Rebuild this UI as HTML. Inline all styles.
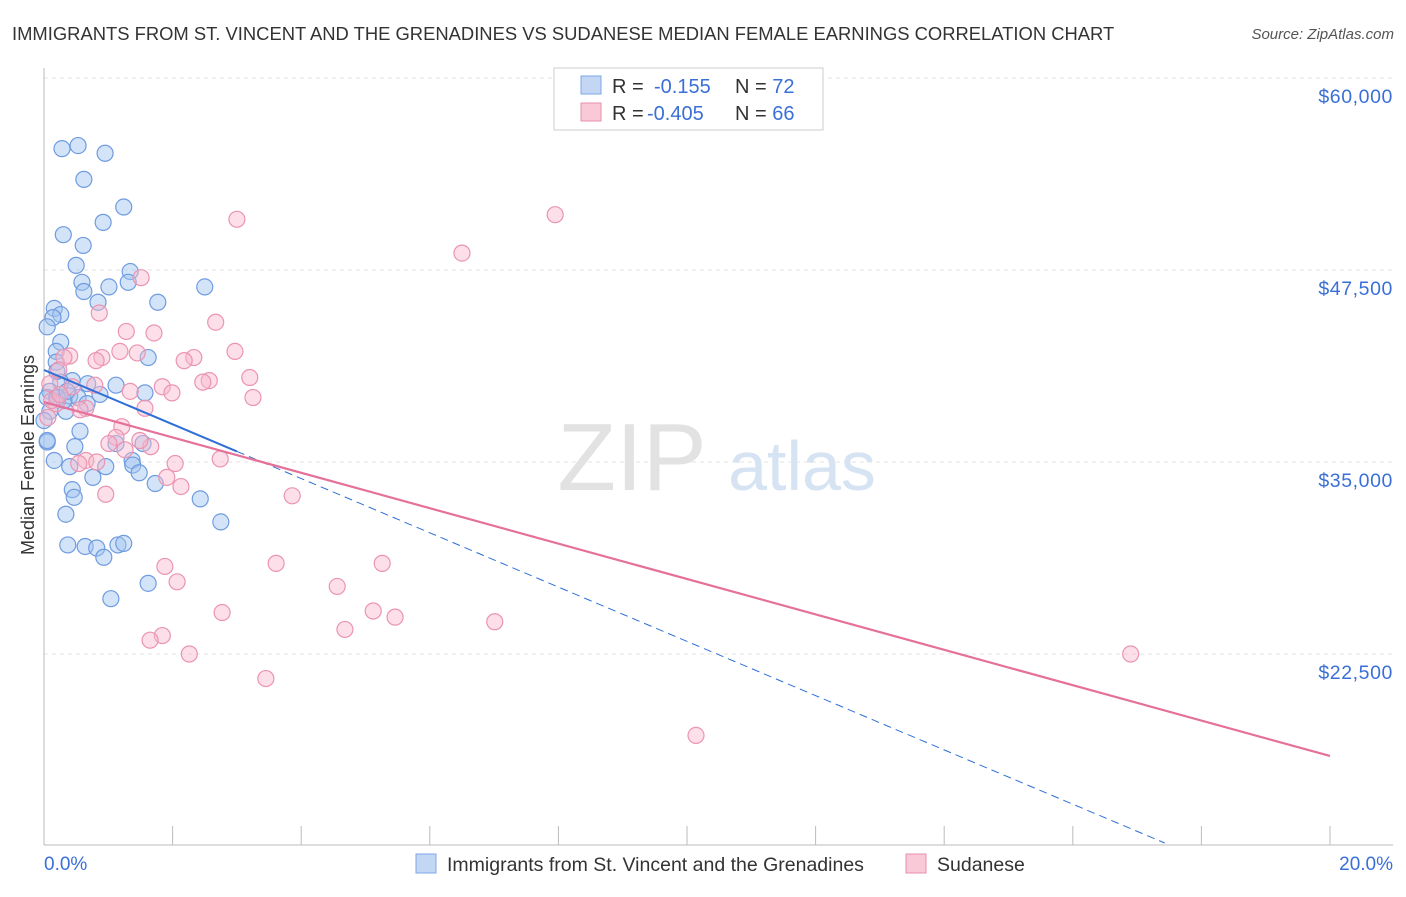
<!DOCTYPE html>
<html><head><meta charset="utf-8"><style>
body{margin:0;background:#fff;font-family:"Liberation Sans",sans-serif;}
svg text{font-family:"Liberation Sans",sans-serif;}
</style></head><body>
<svg id="c" width="1406" height="892">
<text x="12" y="40" font-size="18.4" fill="#333">IMMIGRANTS FROM ST. VINCENT AND THE GRENADINES VS SUDANESE MEDIAN FEMALE EARNINGS CORRELATION CHART</text>
<text x="1394" y="39" font-size="15" fill="#555" text-anchor="end" font-style="italic">Source: ZipAtlas.com</text>
<g id="grid"></g>
<text x="632" y="490" font-size="96" fill="#e2e2e2" font-family="Liberation Serif" text-anchor="middle">ZIP</text>
<text x="802" y="490" font-size="70" fill="#d6e3f3" text-anchor="middle">atlas</text>
<g id="marks"></g>
<text transform="translate(34,455) rotate(-90)" font-size="18" fill="#333" text-anchor="middle">Median Female Earnings</text>
<text x="44" y="870" font-size="19" fill="#3a6fd8">0.0%</text>
<text x="1393" y="870" font-size="19" fill="#3a6fd8" text-anchor="end">20.0%</text>
<g>
<rect x="554" y="68" width="269" height="62" fill="#fff" stroke="#ccc"/>
<rect x="581" y="76" width="20" height="18" fill="#c3d7f5" stroke="#7da5e6"/>
<rect x="581" y="103" width="20" height="18" fill="#f9c9d7" stroke="#ea8fae"/>
<text x="612" y="93" font-size="20" fill="#333">R = <tspan fill="#3a6fd8" x="654">-0.155</tspan><tspan x="735">N = </tspan><tspan fill="#3a6fd8">72</tspan></text>
<text x="612" y="120" font-size="20" fill="#333">R = <tspan fill="#3a6fd8" x="647">-0.405</tspan><tspan x="735">N = </tspan><tspan fill="#3a6fd8">66</tspan></text>
</g>
<g>
<rect x="416" y="854" width="20" height="19" fill="#c3d7f5" stroke="#7da5e6"/>
<text x="447" y="871" font-size="19.5" fill="#333">Immigrants from St. Vincent and the Grenadines</text>
<rect x="906" y="854" width="20" height="19" fill="#f9c9d7" stroke="#ea8fae"/>
<text x="937" y="871" font-size="19.5" fill="#333">Sudanese</text>
</g>
</svg>
<script>
const yTicks=[22500,35000,47500,60000];
const yTickLabels=["$22,500","$35,000","$47,500","$60,000"];
const xTicks=[0,2,4,6,8,10,12,14,16,18,20];
const blueX=[0.28,0.53,0.95,0.62,1.24,0.30,0.92,0.61,0.50,1.34,1.31,1.01,0.59,0.62,1.77,2.50,0.84,0.16,0.26,0.14,0.05,0.26,1.62,0.19,0.19,0.44,0.26,0.68,1.12,1.57,0.09,0.22,0.40,0.53,0.67,0.05,0.34,0.09,0.56,0.05,0.48,1.12,1.54,0.16,0.40,0.96,1.37,1.38,1.48,0.76,1.73,0.44,0.47,2.43,0.34,2.75,0.37,0.64,0.82,1.15,1.24,0.93,1.62,1.04,0.05,0.20,0.00,0.31,0.87,0.36,0.20];
const blueY=[55400,55600,55100,53400,51600,49800,50600,49100,47800,47400,46700,46400,46700,46100,45400,46400,45400,45000,44600,44400,43800,42800,41800,42200,41500,40300,40200,40100,40000,39500,39600,39200,39300,39200,38800,39200,38300,38300,37000,36300,36000,36200,36200,35100,34700,34700,35100,34800,34300,34000,33600,33200,32700,32600,31600,31100,29600,29500,29400,29600,29700,28800,27100,26100,36400,39200,37700,39000,39400,39600,40900];
const pinkX=[3.00,7.95,6.50,1.51,0.86,2.67,1.28,1.71,2.97,1.18,1.45,2.33,2.18,0.40,0.90,0.81,0.31,0.23,2.57,2.47,3.20,1.84,0.79,0.44,0.09,1.34,1.99,3.25,1.57,0.65,0.19,0.06,1.21,1.12,1.01,1.66,1.26,2.74,0.65,0.54,0.82,2.04,1.91,2.13,0.96,3.86,1.88,3.61,5.26,2.07,4.56,2.77,5.12,5.46,7.01,4.68,1.84,1.65,2.26,3.45,16.90,10.14,0.12,0.56,0.25,1.49];
const pinkY=[50800,51100,48600,47000,44700,44100,43500,43400,42200,42200,42100,41800,41600,41900,41800,41600,41800,41000,40300,40200,40500,39900,40000,39900,40100,39600,39500,39200,38500,38500,38800,37900,37300,36600,36200,36000,35800,35200,35100,34900,35000,34900,34000,33400,32900,32800,28200,28400,28400,27200,26900,25200,25300,24900,24600,24100,23700,23400,22500,20900,22500,17200,39000,38400,39400,36400];
const blueTrend=[40990,10196,17.43];
const pinkTrend=[38906,15860];
const X=v=>44+v*64.3, Y=v=>654-(v-22500)*192/12500;
const NS="http://www.w3.org/2000/svg";
const g=document.getElementById('grid'), m=document.getElementById('marks');
function mk(p,tag,at){const e=document.createElementNS(NS,tag);for(const k in at)e.setAttribute(k,at[k]);p.appendChild(e);return e;}
yTicks.forEach((t,i)=>{
 const l=mk(g,'line',{x1:44,x2:1393,y1:Y(t),y2:Y(t),stroke:'#e3e3e3','stroke-dasharray':'4,4'});
 
 
 const tx=mk(g,'text',{x:1393,y:Y(t)+25,'font-size':19.5,fill:'#3a6fd8','text-anchor':'end','letter-spacing':'0.6'});
 tx.textContent=yTickLabels[i];
 
 
});
const ax=mk(g,'line',{x1:44,x2:1393,y1:845,y2:845,stroke:'#bbb'});


const ay=mk(g,'line',{x1:44,x2:44,y1:68,y2:845,stroke:'#bbb'});


xTicks.forEach(t=>{const l=mk(g,'line',{x1:X(t),x2:X(t),y1:826,y2:845,stroke:'#bbb'});
 
 });
blueX.forEach((x,i)=>{const c=mk(m,'circle',{cx:X(x),cy:Y(blueY[i]),r:8,fill:'rgba(160,195,240,0.45)',stroke:'#6f9be0','stroke-width':1.2});
 
 });
pinkX.forEach((x,i)=>{const c=mk(m,'circle',{cx:X(x),cy:Y(pinkY[i]),r:8,fill:'rgba(248,185,205,0.45)',stroke:'#eb94b2','stroke-width':1.2});
 
 });
const bs=(blueTrend[1]-blueTrend[0])/blueTrend[2], bf=x=>blueTrend[0]+bs*x;
const l1=mk(m,'line',{x1:X(0),y1:Y(bf(0)),x2:X(3.0),y2:Y(bf(3.0)),stroke:'#2f6fd6','stroke-width':2});


const l2=mk(m,'line',{x1:X(3.0),y1:Y(bf(3.0)),x2:X(blueTrend[2]),y2:Y(bf(blueTrend[2])),stroke:'#2f6fd6','stroke-width':1,'stroke-dasharray':'8,5'});


const l3=mk(m,'line',{x1:X(0),y1:Y(pinkTrend[0]),x2:X(20),y2:Y(pinkTrend[1]),stroke:'#e5709a','stroke-width':2.2});


</script>
</body></html>
